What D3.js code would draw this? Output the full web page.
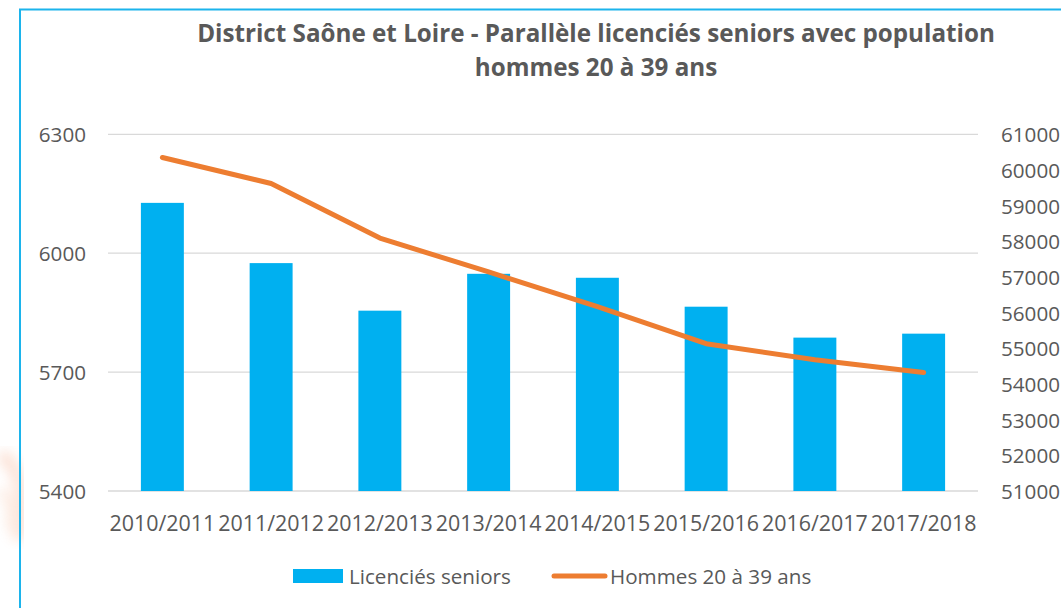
<!DOCTYPE html>
<html>
<head>
<meta charset="utf-8">
<script src="https://cdn.jsdelivr.net/npm/d3@7"></script>
<style>
  html, body { margin: 0; padding: 0; background: #fff; }
  svg { display: block; }
</style>
</head>
<body>
<svg id="chart" width="1061" height="608"></svg>
<script>
// ---- DATA ----
const categories = ["2010/2011", "2011/2012", "2012/2013", "2013/2014", "2014/2015", "2015/2016", "2016/2017", "2017/2018"];
const licencies = [6127, 5975, 5855, 5948, 5938, 5865, 5787, 5797];
const population = [60350, 59620, 58090, 57140, 56170, 55130, 54680, 54320];
const leftTicks = [5400, 5700, 6000, 6300];
const rightTicks = [51000, 52000, 53000, 54000, 55000, 56000, 57000, 58000, 59000, 60000, 61000];
const titleLines = ["District Saône et Loire - Parallèle licenciés seniors avec population", "hommes 20 à 39 ans"];
const seriesNames = ["Licenciés seniors", "Hommes 20 à 39 ans"];

// ---- STYLE ----
const FONT = "'Open Sans', 'Liberation Sans', sans-serif";
const TEXT = "#595959";
const BAR = "#00b0f0";
const LINE = "#ed7d31";
const GRID = "#d9d9d9";

const svg = d3.select("#chart");

function fitSize(str, weight, target) {
  const t = svg.append("text").attr("font-family", FONT).attr("font-weight", weight)
    .attr("font-size", 100).text(str);
  const w = t.node().getComputedTextLength();
  t.remove();
  return 100 * target / w;
}

const axisSize = fitSize("2010/2011", 400, 106);
const rightSize = fitSize("61000", 400, 59);
const legendSize = fitSize(seriesNames[0], 400, 162);
const titleSize = fitSize(titleLines[0], 700, 798);

// background watermark hint at left edge
const defs = svg.append("defs");
defs.append("filter").attr("id", "blur").append("feGaussianBlur").attr("stdDeviation", 6);
const wm = svg.append("g").attr("filter", "url(#blur)").attr("opacity", 0.28);
wm.append("path").attr("d", "M0,455 Q30,470 18,540").attr("fill", "none").attr("stroke", "#f4a07a").attr("stroke-width", 14);
wm.append("path").attr("d", "M0,490 Q14,500 10,530").attr("fill", "none").attr("stroke", "#f8c0a0").attr("stroke-width", 10);

// chart border
svg.append("rect").attr("x", 20).attr("y", 9.5).attr("width", 1100).attr("height", 700)
  .attr("fill", "none").attr("stroke", "#1cb4ec").attr("stroke-width", 2);

// ---- SCALES ----
const x = d3.scaleBand().domain(categories).range([108, 978])
  .paddingInner(0.605).paddingOuter(0.3025);
const yL = d3.scaleLinear().domain([5400, 6300]).range([491, 134.3]);
const yR = d3.scaleLinear().domain([51000, 61000]).range([491, 134.3]);

// gridlines
svg.append("g").selectAll("line").data(leftTicks).join("line")
  .attr("x1", 108).attr("x2", 978)
  .attr("y1", d => yL(d)).attr("y2", d => yL(d))
  .attr("stroke", GRID).attr("stroke-width", 1.3);

// left axis
const gL = svg.append("g").attr("transform", "translate(86,0)")
  .call(d3.axisLeft(yL).tickValues(leftTicks).tickSize(0).tickPadding(0).tickFormat(d3.format("d")));
gL.select(".domain").remove();
gL.selectAll("text").attr("font-family", FONT).attr("font-size", rightSize)
  .attr("fill", TEXT).attr("dy", "0.36em");

// right axis
const gR = svg.append("g").attr("transform", "translate(1001,0)")
  .call(d3.axisRight(yR).tickValues(rightTicks).tickSize(0).tickPadding(0).tickFormat(d3.format("d")));
gR.select(".domain").remove();
gR.selectAll("text").attr("font-family", FONT).attr("font-size", rightSize)
  .attr("fill", TEXT).attr("dy", "0.36em");

// bottom axis
const gB = svg.append("g").attr("transform", "translate(0,491)")
  .call(d3.axisBottom(x).tickSize(0).tickPadding(0));
gB.select(".domain").remove();
gB.selectAll("text").attr("font-family", FONT).attr("font-size", axisSize)
  .attr("fill", TEXT).attr("dy", 0).attr("y", 39.5);

// bars
svg.append("g").selectAll("rect").data(licencies).join("rect")
  .attr("x", (d, i) => x(categories[i]))
  .attr("width", x.bandwidth())
  .attr("y", d => yL(d))
  .attr("height", d => yL(5400) - yL(d))
  .attr("fill", BAR);

// line
const line = d3.line()
  .x((d, i) => x(categories[i]) + x.bandwidth() / 2)
  .y(d => yR(d));
svg.append("path").datum(population)
  .attr("d", line)
  .attr("fill", "none").attr("stroke", LINE).attr("stroke-width", 5)
  .attr("stroke-linecap", "round").attr("stroke-linejoin", "round");

// title
svg.append("g").selectAll("text").data(titleLines).join("text")
  .attr("x", 596).attr("y", (d, i) => 42 + i * 33.5)
  .attr("text-anchor", "middle")
  .attr("font-family", FONT).attr("font-weight", 700).attr("font-size", titleSize)
  .attr("fill", TEXT).text(d => d);

// legend
const lg = svg.append("g");
lg.append("rect").attr("x", 293).attr("y", 569).attr("width", 50).attr("height", 14).attr("fill", BAR);
lg.append("text").attr("x", 349).attr("y", 583.5).attr("font-family", FONT).attr("font-size", legendSize)
  .attr("fill", TEXT).text(seriesNames[0]);
lg.append("line").attr("x1", 554).attr("x2", 605).attr("y1", 576).attr("y2", 576)
  .attr("stroke", LINE).attr("stroke-width", 5).attr("stroke-linecap", "round");
lg.append("text").attr("x", 610).attr("y", 583.5).attr("font-family", FONT).attr("font-size", legendSize)
  .attr("fill", TEXT).text(seriesNames[1]);
</script>
</body>
</html>
